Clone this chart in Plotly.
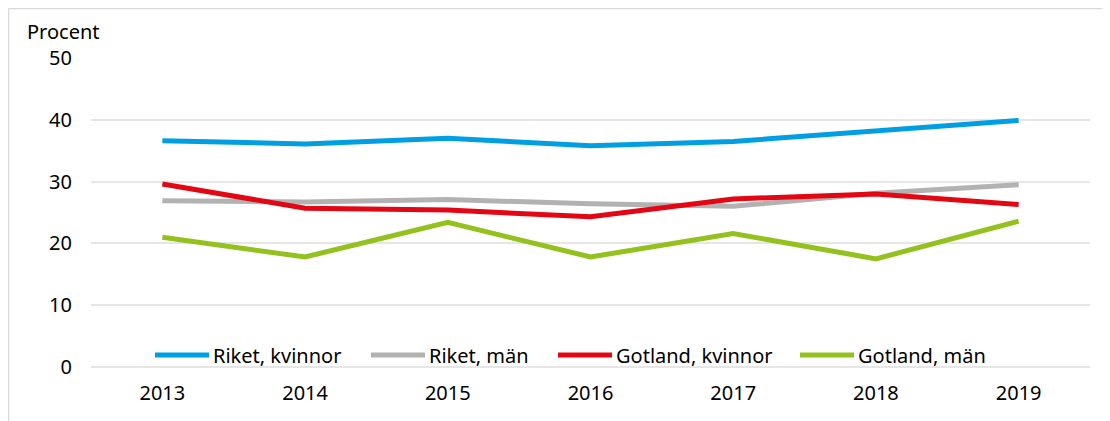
import plotly.graph_objects as go

years = ["2013", "2014", "2015", "2016", "2017", "2018", "2019"]
series_names = ["Riket, kvinnor", "Riket, män", "Gotland, kvinnor", "Gotland, män"]
riket_kvinnor = [36.6, 36.1, 37.0, 35.8, 36.5, 38.3, 39.9]
riket_man = [26.9, 26.7, 27.1, 26.4, 26.0, 28.1, 29.5]
gotland_kvinnor = [29.6, 25.7, 25.4, 24.3, 27.2, 28.0, 26.3]
gotland_man = [21.0, 17.8, 23.4, 17.8, 21.6, 17.5, 23.6]
y_ticks = [0, 10, 20, 30, 40, 50]
y_title = "Procent"

colors = ["#009FE3", "#B2B2B2", "#E30613", "#95C11F"]
values = [riket_kvinnor, riket_man, gotland_kvinnor, gotland_man]

FONT = "Noto Sans"
FS = 20
fig = go.Figure()
for name, vals, col in zip(series_names, values, colors):
    fig.add_trace(go.Scatter(
        x=years, y=vals, mode="lines", name=name,
        line=dict(color=col, width=5), showlegend=False,
    ))

OFF = 8  # page body margin
W, H = 1110, 421
# target plot area in screen px: x 91..1090, y 58..367
ml, mt = 91 - OFF, 58 - OFF
mr = W - (1090 - OFF)
mb = H - (367 - OFF)
pw = W - ml - mr
ph = H - mt - mb

def px_x(p):
    return (p - OFF - ml) / pw

def px_y(p):
    return (H - mb - (p - OFF)) / ph

shapes = []
annotations = []
# frame (left and top border)
shapes.append(dict(type="line", xref="paper", yref="paper",
                   x0=px_x(8.5), x1=px_x(8.5), y0=px_y(8.5), y1=px_y(440),
                   line=dict(color="#D9D9D9", width=1.5)))
shapes.append(dict(type="line", xref="paper", yref="paper",
                   x0=px_x(8.5), x1=px_x(1130), y0=px_y(8.5), y1=px_y(8.5),
                   line=dict(color="#D9D9D9", width=1.5)))

# custom legend
leg_line_start = [155, 371, 558, 800]
leg_y = px_y(355)
for name, col, xs in zip(series_names, colors, leg_line_start):
    shapes.append(dict(type="line", xref="paper", yref="paper",
                       x0=px_x(xs), x1=px_x(xs + 54), y0=leg_y, y1=leg_y,
                       line=dict(color=col, width=5)))
    annotations.append(dict(text=name, xref="paper", yref="paper",
                            x=px_x(xs + 56), y=leg_y, xanchor="left", yanchor="middle",
                            showarrow=False, font=dict(family=FONT, size=FS, color="#000000")))

annotations.append(dict(text=y_title, xref="paper", yref="paper",
                        x=px_x(63), y=px_y(32), xanchor="center", yanchor="middle",
                        showarrow=False, font=dict(family=FONT, size=FS, color="#000000")))

fig.update_layout(
    width=W, height=H,
    margin=dict(l=ml, r=mr, t=mt, b=mb, pad=0),
    paper_bgcolor="white", plot_bgcolor="white",
    font=dict(family=FONT, size=FS, color="#000000"),
    shapes=shapes, annotations=annotations,
    xaxis=dict(type="category", range=[-0.5, 6.5], showgrid=False, showline=False,
               zeroline=False, ticks="", ticklabelstandoff=12,
               tickfont=dict(family=FONT, size=FS, color="#000000")),
    yaxis=dict(range=[0, 50], tickvals=y_ticks, showgrid=True, gridcolor="#E6E6E6",
               gridwidth=1.5, zeroline=True, zerolinecolor="#E6E6E6", zerolinewidth=1.5,
               showline=False, ticks="", ticklabelstandoff=18,
               tickfont=dict(family=FONT, size=FS, color="#000000")),
    showlegend=False,
)

fig.write_html("out.html")
